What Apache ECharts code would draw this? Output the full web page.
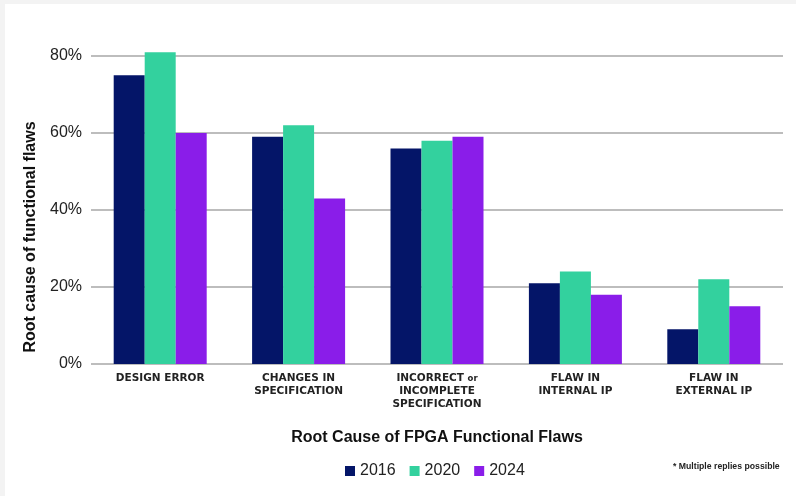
<!DOCTYPE html>
<html>
<head>
<meta charset="utf-8">
<title>Root Cause of FPGA Functional Flaws</title>
<script src="https://cdn.jsdelivr.net/npm/echarts@6/dist/echarts.min.js"></script>
<style>
    body { margin: 0; background: #f3f3f3; }
    #chart { position: absolute; left: 5px; top: 4px; width: 791px; height: 492px; background: #fff; }
</style>
</head>
<body>
<div id="chart"></div>
<script>
// categories on the x axis
var categories = ['DESIGN ERROR', 'CHANGES IN\nSPECIFICATION', 'INCORRECT or\nINCOMPLETE\nSPECIFICATION', 'FLAW IN\nINTERNAL IP', 'FLAW IN\nEXTERNAL IP'];
// survey years
var years = ['2016', '2020', '2024'];
// percent values per year
var values2016 = [75, 59, 56, 21, 9];
var values2020 = [81, 62, 58, 24, 22];
var values2024 = [60, 43, 59, 18, 15];
var yTicks = [0, 20, 40, 60, 80];

var colors = ['#041568', '#33d19e', '#8a1de9'];

var chart = echarts.init(document.getElementById('chart'));

function barSeries(name, data, color) {
    return {
        name: name,
        type: 'bar',
        data: data,
        barWidth: 31,
        barGap: '0%',
        clip: false,
        itemStyle: { color: color }
    };
}

var option = {
    backgroundColor: '#fff',
    animation: false,
    color: colors,
    grid: {
        left: 86,
        right: 13,
        top: 52,
        bottom: 132
    },
    legend: {
        data: years,
        left: 335,
        top: 454,
        icon: 'rect',
        itemWidth: 10,
        itemHeight: 10,
        itemGap: 14,
        textStyle: {
            fontFamily: 'Liberation Sans',
            fontSize: 16,
            color: '#222'
        }
    },
    xAxis: [{
        type: 'category',
        data: categories,
        axisLine: { show: false },
        axisTick: { show: false },
        axisLabel: {
            interval: 0,
            margin: 8,
            fontFamily: 'DejaVu Sans',
            fontWeight: 'bold',
            fontSize: 10.5,
            lineHeight: 13,
            color: '#222',
            formatter: function (v) {
                return v.replace(' or', ' {s|or}');
            },
            rich: {
                s: { fontFamily: 'DejaVu Sans', fontWeight: 'bold', fontSize: 8.5, color: '#222' }
            }
        }
    }],
    yAxis: [{
        type: 'value',
        min: yTicks[0],
        max: yTicks[yTicks.length - 1],
        interval: 20,
        axisLine: { show: false },
        axisTick: { show: false },
        splitLine: { lineStyle: { color: '#bdbdbd', width: 2 } },
        axisLabel: {
            margin: 9,
            fontFamily: 'Liberation Sans',
            fontSize: 16,
            color: '#222',
            formatter: '{value}%'
        }
    }],
    graphic: [
        {
            type: 'text',
            x: 26,
            y: 233,
            rotation: Math.PI / 2,
            style: {
                text: 'Root cause of functional flaws',
                font: 'bold 16px "Liberation Sans"',
                fill: '#111',
                textAlign: 'center',
                textVerticalAlign: 'middle'
            }
        },
        {
            type: 'text',
            x: 432,
            y: 434,
            style: {
                text: 'Root Cause of FPGA Functional Flaws',
                font: 'bold 16px "Liberation Sans"',
                fill: '#111',
                textAlign: 'center',
                textVerticalAlign: 'middle'
            }
        },
        {
            type: 'text',
            x: 668,
            y: 463,
            style: {
                text: '* Multiple replies possible',
                font: 'bold 8.7px "Liberation Sans"',
                fill: '#222',
                textAlign: 'left',
                textVerticalAlign: 'middle'
            }
        }
    ],
    series: [
        barSeries(years[0], values2016, colors[0]),
        barSeries(years[1], values2020, colors[1]),
        barSeries(years[2], values2024, colors[2])
    ]
};

chart.setOption(option);
</script>
</body>
</html>
